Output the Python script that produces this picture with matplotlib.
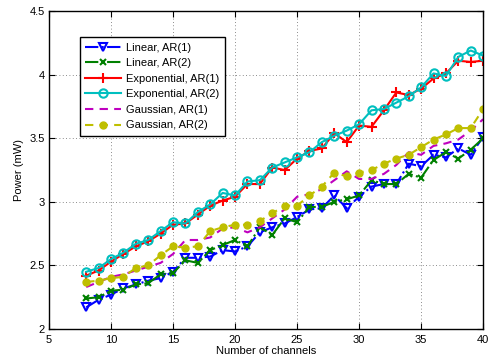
"""
Power vs number of channels, MATLAB-style line chart
"""
import matplotlib
matplotlib.use('Agg')
import matplotlib.pyplot as plt

channels = list(range(8, 41))

linear_ar1 = [2.17, 2.23, 2.27, 2.32, 2.35, 2.38, 2.40, 2.45, 2.56, 2.56, 2.57,
              2.62, 2.61, 2.65, 2.76, 2.80, 2.83, 2.88, 2.94, 2.95, 3.05, 2.95,
              3.04, 3.12, 3.14, 3.14, 3.30, 3.28, 3.37, 3.35, 3.42, 3.37, 3.51]
linear_ar2 = [2.24, 2.25, 2.30, 2.31, 2.35, 2.36, 2.43, 2.44, 2.54, 2.52, 2.62,
              2.66, 2.70, 2.65, 2.80, 2.74, 2.87, 2.84, 2.96, 2.96, 3.00, 3.02,
              3.05, 3.17, 3.14, 3.14, 3.22, 3.19, 3.33, 3.39, 3.34, 3.41, 3.50]
exp_ar1 = [2.42, 2.46, 2.53, 2.59, 2.65, 2.69, 2.75, 2.82, 2.83, 2.90, 2.97,
           3.01, 3.04, 3.14, 3.14, 3.27, 3.25, 3.34, 3.40, 3.42, 3.54, 3.47,
           3.60, 3.59, 3.72, 3.86, 3.84, 3.89, 3.97, 4.01, 4.11, 4.10, 4.11]
exp_ar2 = [2.45, 2.48, 2.55, 2.60, 2.67, 2.70, 2.77, 2.84, 2.83, 2.92, 2.98,
           3.07, 3.05, 3.16, 3.17, 3.27, 3.31, 3.35, 3.39, 3.47, 3.52, 3.56,
           3.61, 3.72, 3.73, 3.78, 3.83, 3.90, 4.01, 3.99, 4.14, 4.19, 4.15]
gauss_ar1 = [2.33, 2.37, 2.41, 2.43, 2.46, 2.49, 2.52, 2.59, 2.70, 2.70, 2.72,
             2.79, 2.80, 2.76, 2.80, 2.87, 2.94, 3.04, 3.06, 3.10, 3.17, 3.24,
             3.18, 3.18, 3.22, 3.29, 3.39, 3.37, 3.44, 3.46, 3.49, 3.56, 3.65]
gauss_ar2 = [2.37, 2.38, 2.40, 2.41, 2.48, 2.50, 2.58, 2.65, 2.64, 2.65, 2.77,
             2.80, 2.82, 2.82, 2.85, 2.91, 2.97, 2.97, 3.05, 3.12, 3.23, 3.20,
             3.23, 3.25, 3.30, 3.34, 3.37, 3.43, 3.49, 3.53, 3.58, 3.58, 3.73]

labels = ['Linear, AR(1)', 'Linear, AR(2)', 'Exponential, AR(1)',
          'Exponential, AR(2)', 'Gaussian, AR(1)', 'Gaussian, AR(2)']

plt.rcParams['font.family'] = ['Liberation Sans', 'DejaVu Sans']

fig = plt.figure(figsize=(4.9, 3.58), dpi=100)
ax = fig.add_axes([0.1, 0.081, 0.886, 0.888])

lw = 1.5
ax.plot(channels, linear_ar1, color='b', linestyle='-.', linewidth=lw,
        marker='v', markersize=6, markerfacecolor='none', markeredgewidth=1.5,
        label=labels[0])
ax.plot(channels, linear_ar2, color=(0, 0.5, 0), linestyle='-.', linewidth=lw,
        marker='x', markersize=5, markeredgewidth=1.5, label=labels[1])
ax.plot(channels, exp_ar1, color='r', linestyle='-', linewidth=lw,
        marker='+', markersize=7, markeredgewidth=1.5, label=labels[2])
ax.plot(channels, exp_ar2, color=(0, 0.75, 0.75), linestyle='-', linewidth=lw,
        marker='o', markersize=6, markerfacecolor='none', markeredgewidth=1.5,
        label=labels[3])
ax.plot(channels, gauss_ar1, color=(0.75, 0, 0.75), linestyle='--', linewidth=lw,
        dashes=(4, 3), label=labels[4])
ax.plot(channels, gauss_ar2, color=(0.75, 0.75, 0), linestyle='--', linewidth=lw,
        dashes=(4, 3), marker='o', markersize=5, label=labels[5])

ax.set_xlim(5, 40)
ax.set_ylim(2, 4.5)
ax.set_xticks(range(5, 41, 5))
ax.set_yticks([2, 2.5, 3, 3.5, 4, 4.5])
ax.set_yticklabels(['2', '2.5', '3', '3.5', '4', '4.5'])
ax.tick_params(direction='in', top=True, right=True, labelsize=8, length=4,
               width=0.8)
ax.tick_params(axis='x', pad=4)
ax.tick_params(axis='y', pad=3)
ax.grid(True, linestyle=(0, (1, 3)), color='black', linewidth=0.6, alpha=0.6)
for s in ax.spines.values():
    s.set_linewidth(1.0)

ax.set_xlabel('Number of channels', fontsize=8, labelpad=1)
ax.set_ylabel('Power (mW)', fontsize=8, labelpad=4)

leg = ax.legend(loc='upper left', bbox_to_anchor=(0.071, 0.918),
                borderaxespad=0, fontsize=8, fancybox=False, framealpha=1,
                edgecolor='black', handlelength=3.2, labelspacing=0.5,
                borderpad=0.5, handletextpad=0.5)
leg.get_frame().set_linewidth(1.0)

plt.savefig('out.png', dpi=100)
